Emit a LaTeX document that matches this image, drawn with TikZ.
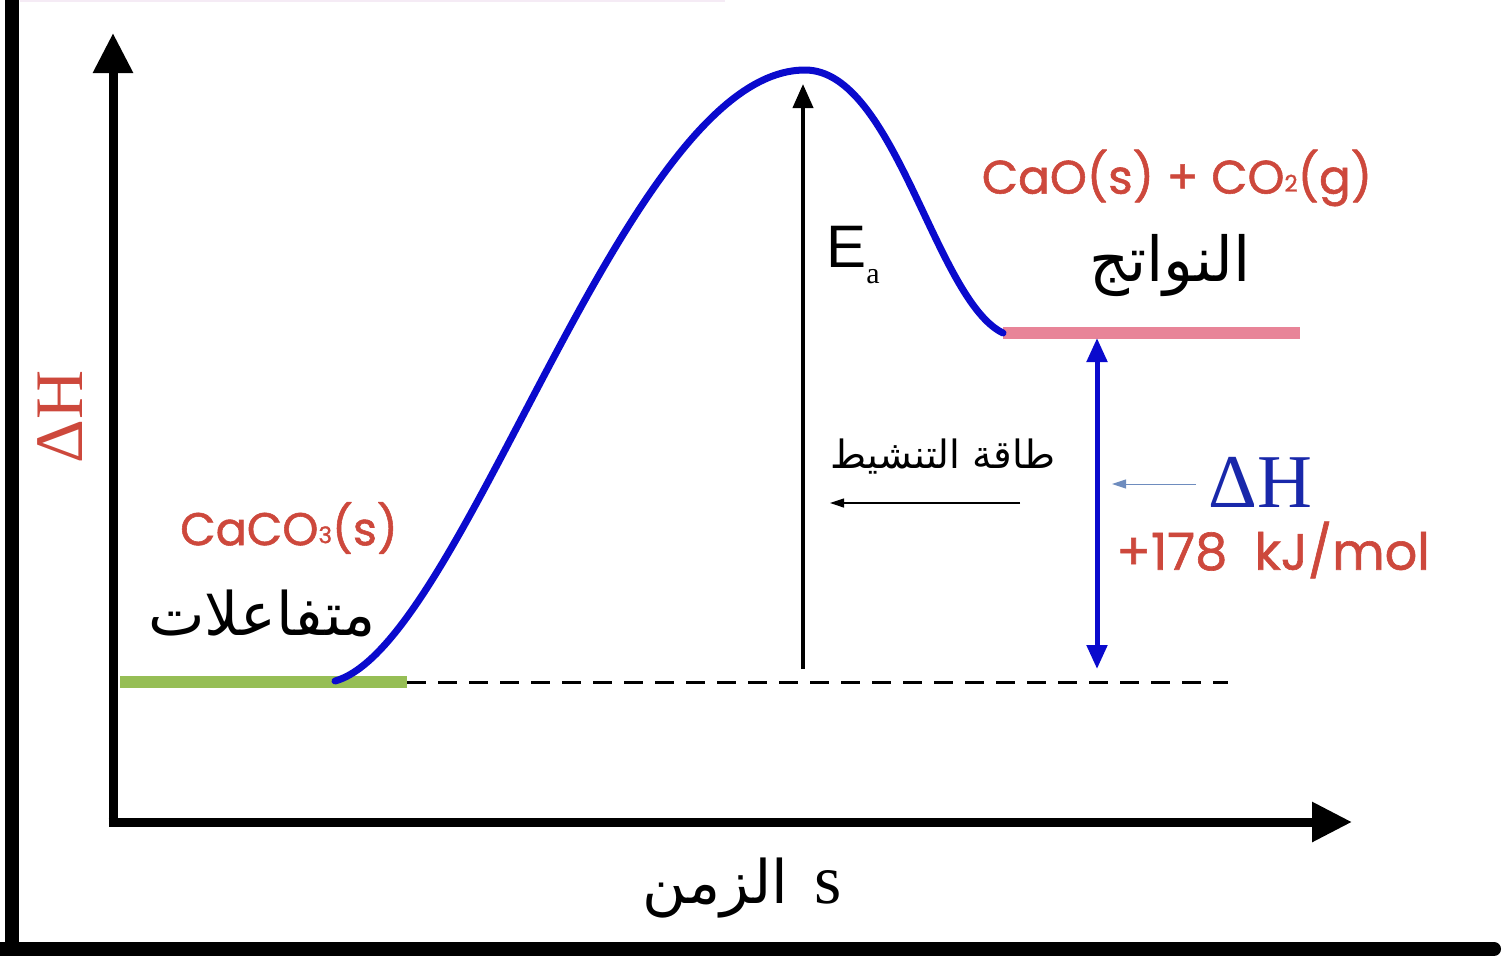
\documentclass[tikz,border=0pt]{standalone}
\usepackage{fontspec}
\usetikzlibrary{arrows.meta}
\setmainfont{Liberation Serif}
\newfontfamily\arabicfont[Script=Arabic]{DejaVu Sans}
\newfontfamily\chemfont[FakeBold=1.2]{Poppins}
\newfontfamily\arialfont{Liberation Sans}
\TeXXeTstate=1
\definecolor{chemred}{RGB}{205,72,60}
\definecolor{curveblue}{RGB}{10,10,205}
\definecolor{dhblue}{RGB}{25,40,170}
\definecolor{lvlgreen}{RGB}{150,190,85}
\definecolor{lvlpink}{RGB}{232,132,152}
\definecolor{hintblue}{RGB}{110,140,190}
\begin{document}
\begin{tikzpicture}[x=1pt,y=-1pt,
  txt/.style={inner sep=0pt,anchor=center},
  axisline/.style={line width=9pt,-{Triangle[length=40pt,width=38pt]}},
  level/.style={line width=12pt},
  thinarrow/.style={line width=1.2pt,-{Triangle[length=14pt,width=9pt]}}]
\useasboundingbox (0,0) rectangle (1504,956);
% frame pieces
\draw[line width=1.5pt,color=violet!8] (20,1) -- (725,1);
\draw[line width=14pt] (12,0) -- (12,956);
\draw[line width=14pt,line cap=round] (0,949) -- (1494,949);
% axes
\coordinate (O) at (113,822);
\coordinate (ytop) at (113,33);
\coordinate (xend) at (1352,822);
\draw[axisline] ([yshift=4.5pt]O) -- (ytop);
\draw[axisline] ([xshift=-4.5pt]O) -- (xend);
% levels
\coordinate (rL) at (120,682);
\coordinate (rR) at (407,682);
\coordinate (dEnd) at (1228,682);
\coordinate (cs) at (335,681);
\coordinate (ts) at (805,70);
\coordinate (pL) at (1003,333);
\coordinate (pR) at (1300,333);
\draw[line width=3pt,dash pattern=on 19pt off 12pt] (rR) -- (dEnd);
\draw[level,lvlgreen] (rL) -- (rR);
\draw[level,lvlpink] (pL) -- (pR);
\draw[line width=7pt,curveblue,line cap=round]
  (cs) .. controls (465,645) and (625,70) .. (ts)
       .. controls (895,70) and (935,300) .. (pL);
% Ea arrow
\coordinate (ea0) at (803,669);
\coordinate (ea1) at (803,84);
\draw[line width=4pt,-{Triangle[length=24pt,width=20pt]}] (ea0) -- (ea1);
% Delta H arrow
\coordinate (dh0) at (1097,338);
\coordinate (dh1) at (1097,669);
\draw[line width=5pt,curveblue,{Triangle[length=24pt,width=20pt]}-{Triangle[length=24pt,width=20pt]}] (dh0) -- (dh1);
% labels
\node[txt,chemred,rotate=90] (yl) at (60,417) {\fontsize{68}{68}\selectfont ΔH};
\node[txt] (ea) at (853,255) {\arialfont\fontsize{60}{60}\selectfont E\raisebox{-16pt}{\rmfamily\fontsize{30}{30}\selectfont a}};
\node[txt,chemred] (prod) at (1177,178) {\chemfont\fontsize{47}{49}\selectfont CaO(s) + CO\raisebox{2pt}{\fontsize{23}{23}\selectfont 2}(g)};
\node[txt] (prodar) at (1170,266) {\arabicfont\fontsize{62}{66}\selectfont\beginR النواتج\endR};
\node[txt,chemred] (reac) at (289,528) {\chemfont\fontsize{46}{48}\selectfont CaCO\raisebox{2pt}{\fontsize{23}{23}\selectfont 3}(s)};
\node[txt] (reacar) at (262,613) {\arabicfont\fontsize{60}{64}\selectfont\beginR متفاعلات\endR};
\node[txt] (eaar) at (943,457) {\arabicfont\fontsize{39}{42}\selectfont\beginR طاقة التنشيط\endR};
\coordinate (eaA) at (1020,503);
\coordinate (eaB) at (830,503);
\draw[thinarrow] (eaA) -- (eaB);
\node[txt,dhblue] (dh) at (1260,482) {\fontsize{76}{76}\selectfont ΔH};
\coordinate (hA) at (1196,484);
\coordinate (hB) at (1112,484);
\draw[thinarrow,hintblue,line width=1pt] (hA) -- (hB);
\node[txt,chemred] (val) at (1273,550) {\chemfont\fontsize{51}{53}\selectfont +178\ \ kJ/mol};
\node[txt] (time) at (742,888) {\hbox{\arabicfont\fontsize{60}{64}\selectfont\beginR الزمن\endR}\hspace{26pt}\hbox{\fontsize{70}{72}\selectfont s}};
\end{tikzpicture}
\end{document}
